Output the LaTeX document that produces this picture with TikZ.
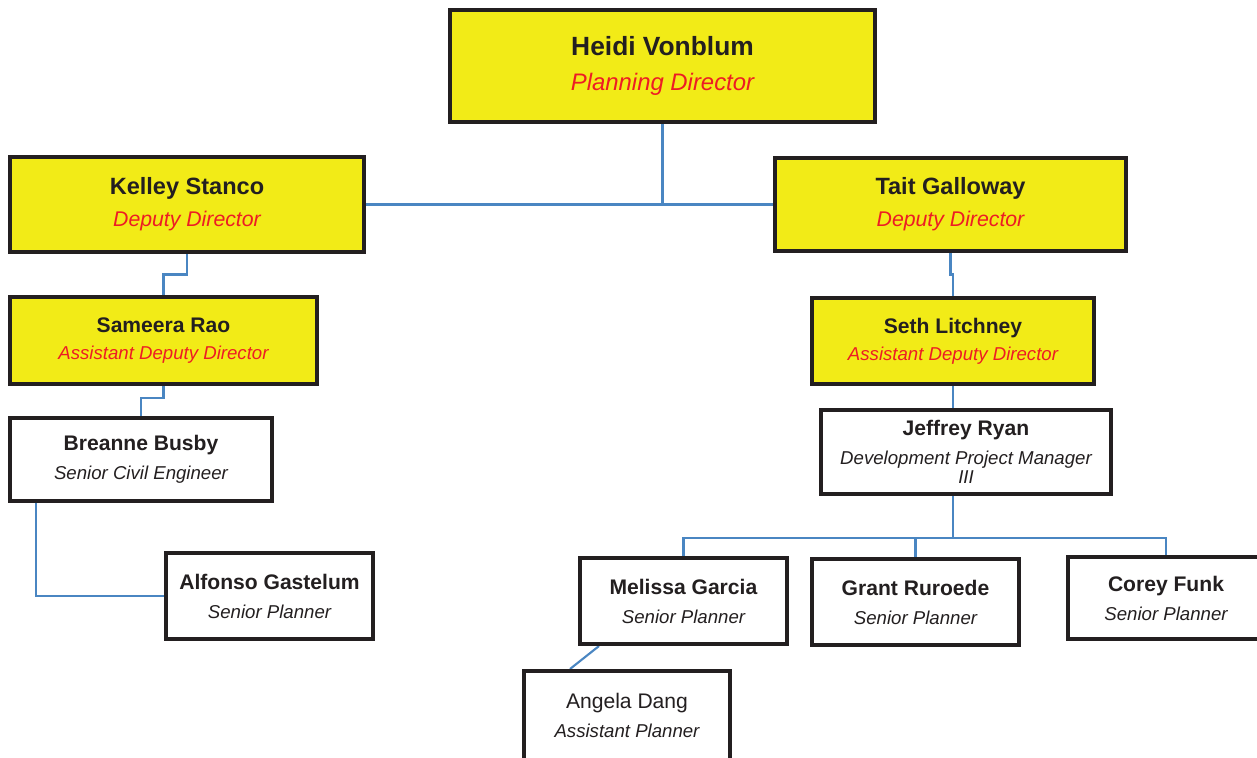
\documentclass[tikz,border=0pt]{standalone}
\usepackage{fontspec}
\setmainfont{Liberation Sans}
\usepackage{xcolor}
\usetikzlibrary{positioning, calc, backgrounds}
\definecolor{boxyellow}{RGB}{242, 235, 23}
\definecolor{titlered}{RGB}{237, 28, 36}
\definecolor{linkblue}{RGB}{74, 134, 194}
\definecolor{inkblack}{RGB}{35, 31, 32}

\begin{document}
\begin{tikzpicture}[
        x=0.02cm, y=-0.02cm,
        lead/.style={rectangle, draw=inkblack, fill=boxyellow, line width=2.3pt, inner sep=0pt, align=center, text=inkblack},
        staff/.style={rectangle, draw=inkblack, fill=white, line width=2.3pt, inner sep=0pt, align=center, text=inkblack},
        small/.style={minimum width=4.14cm, minimum height=1.72cm, font=\fontsize{12}{16.5}\selectfont},
        link/.style={draw=linkblue, line width=1.2pt}
    ]
        \useasboundingbox (0,0) rectangle (1257,757);

        % Director
        \node[lead, minimum width=8.5cm, minimum height=2.24cm, font=\fontsize{15}{20}\selectfont] (heidi) at (662.5,66) {\textbf{Heidi Vonblum}\\{\fontsize{13.6}{20}\selectfont\color{titlered}\itshape Planning Director}};

        % Deputy Directors
        \node[lead, minimum width=7.08cm, minimum height=1.9cm, font=\fontsize{13.4}{18.2}\selectfont] (kelley) at (187,204.5) {\textbf{Kelley Stanco}\\{\fontsize{12.1}{18.2}\selectfont\color{titlered}\itshape Deputy Director}};
        \node[lead, minimum width=7.02cm, minimum height=1.86cm, font=\fontsize{13.4}{18.2}\selectfont] (tait) at (950.5,204.5) {\textbf{Tait Galloway}\\{\fontsize{12.1}{18.2}\selectfont\color{titlered}\itshape Deputy Director}};

        % Assistant Deputy Directors
        \node[lead, minimum width=6.14cm, minimum height=1.74cm, font=\fontsize{12}{15.6}\selectfont] (sameera) at (163.5,340.5) {\textbf{Sameera Rao}\\{\fontsize{10.6}{15.6}\selectfont\color{titlered}\itshape Assistant Deputy Director}};
        \node[lead, minimum width=5.64cm, minimum height=1.72cm, font=\fontsize{12}{15.6}\selectfont] (seth) at (953,341) {\textbf{Seth Litchney}\\{\fontsize{10.6}{15.6}\selectfont\color{titlered}\itshape Assistant Deputy Director}};

        % Left branch
        \node[staff, minimum width=5.24cm, minimum height=1.66cm, font=\fontsize{12}{16.5}\selectfont] (breanne) at (141,459.5) {\textbf{Breanne Busby}\\{\fontsize{10.6}{16.5}\selectfont\itshape Senior Civil Engineer}};
        \node[staff, small] (alfonso) at (269.5,596) {\textbf{Alfonso Gastelum}\\{\fontsize{10.6}{16.5}\selectfont\itshape Senior Planner}};

        % Right branch
        \node[staff, minimum width=5.8cm, minimum height=1.68cm, font=\fontsize{12}{16}\selectfont] (jeffrey) at (966,452) {\textbf{Jeffrey Ryan}\\{\fontsize{10.6}{16}\selectfont\itshape Development Project Manager}\\[-5pt]{\fontsize{10.6}{16}\selectfont\itshape III}};
        \node[staff, small] (melissa) at (683.5,601) {\textbf{Melissa Garcia}\\{\fontsize{10.6}{16.5}\selectfont\itshape Senior Planner}};
        \node[staff, small] (grant) at (915.5,602) {\textbf{Grant Ruroede}\\{\fontsize{10.6}{16.5}\selectfont\itshape Senior Planner}};
        \node[staff, small, minimum width=3.92cm, minimum height=1.64cm] (corey) at (1166,598) {\textbf{Corey Funk}\\{\fontsize{10.6}{16.5}\selectfont\itshape Senior Planner}};
        \node[staff, small, minimum width=4.12cm, minimum height=1.9cm] (angela) at (627,718.5) {Angela Dang\\{\fontsize{10.6}{16.5}\selectfont\itshape Assistant Planner\rule[-4pt]{0pt}{4pt}}};

        \begin{scope}[on background layer]
            % Director to deputies
            \draw[link] (heidi.south) |- (kelley.east);
            \draw[link] (heidi.south) |- (tait.west);

            % Left chain
            \draw[link] (kelley.south) |- ($(kelley.south)!0.5!(sameera.north)$) -| (sameera.north);
            \draw[link] (sameera.south) |- ($(sameera.south)!0.4!(breanne.north)$) -| (breanne.north);
            \draw[link] ($(breanne.south west)+(28,0)$) |- (alfonso.west);

            % Right chain
            \draw[link] (tait.south) |- ($(tait.south)!0.5!(seth.north)$) -| (seth.north);
            \draw[link] (seth.south) -- (seth.south |- jeffrey.north);
            \draw[link] (seth.south |- jeffrey.south) -- ++(0,42) coordinate (fork);
            \draw[link] (fork) -| (melissa.north);
            \draw[link] (fork) -| (grant.north);
            \draw[link] (fork) -| (corey.north);
            \draw[link] ($(melissa.south west)+(21,0)$) -- ($(angela.north west)+(48,0)$);
        \end{scope}
    \end{tikzpicture}
\end{document}
